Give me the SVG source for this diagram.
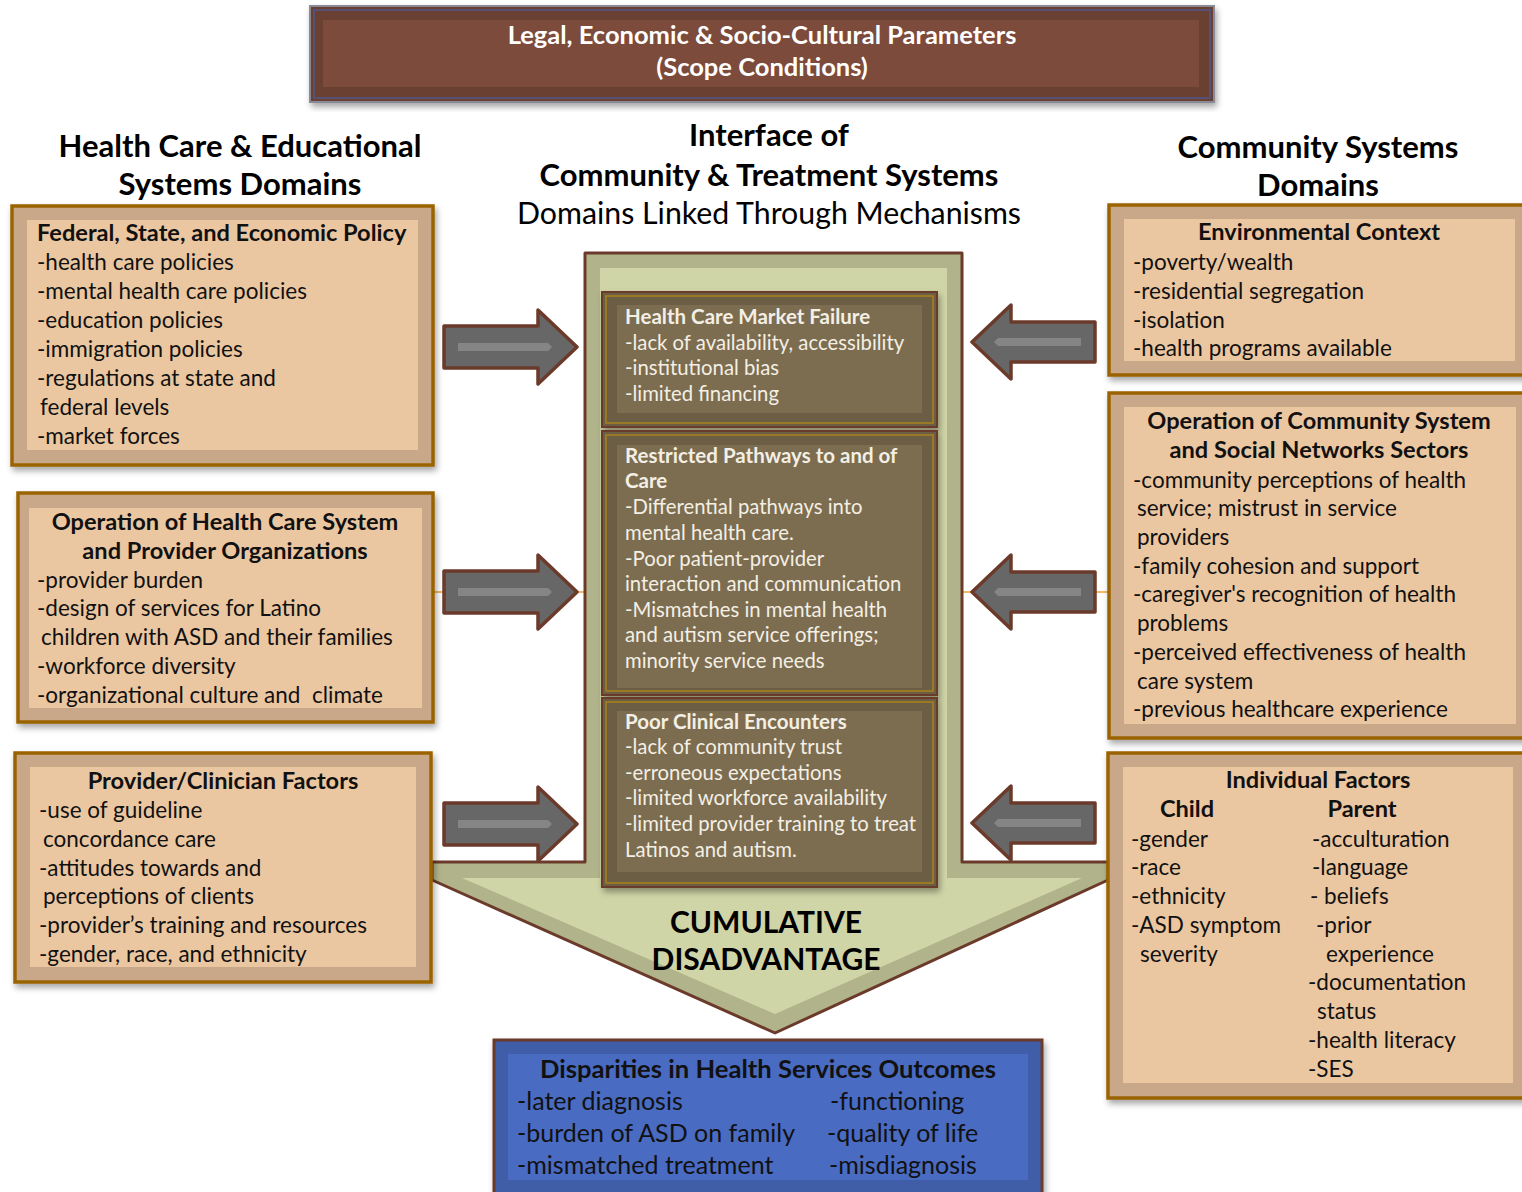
<svg xmlns="http://www.w3.org/2000/svg" width="1522" height="1192" viewBox="0 0 1522 1192">
<defs>
<filter id="sh" x="-5%" y="-5%" width="110%" height="115%">
<feDropShadow dx="2" dy="4" stdDeviation="3" flood-color="#000" flood-opacity="0.35"/>
</filter>
<g id="arrR">
<path d="M0,-21 L94,-21 L94,-37 L133,0 L94,37 L94,21 L0,21 Z" fill="#676767" stroke="#6b3a2a" stroke-width="3.5" stroke-linejoin="round"/>
<path d="M14,-4 L104,-4 L108,0 L104,4 L14,4 Z" fill="#858585"/>
</g>
<g id="arrL">
<path d="M0,0 L39,-37 L39,-20 L123,-20 L123,20 L39,20 L39,37 Z" fill="#676767" stroke="#6b3a2a" stroke-width="3.5" stroke-linejoin="round"/>
<path d="M22,0 L26,-4 L109,-4 L109,4 L26,4 Z" fill="#858585"/>
</g>
</defs>
<style>
.f{font-family:Lato,"Open Sans","Liberation Sans",sans-serif}
.hd{font-size:31px;font-weight:700;fill:#000}
.hr{font-size:30.3px;font-weight:400;fill:#000}
.t{font-size:22.5px;fill:#111}
.tb{font-size:23.6px;font-weight:700;fill:#111}
.w{font-size:20.3px;fill:#f4efe4}
.wb{font-size:20.5px;font-weight:700;fill:#f4efe4}
.c{text-anchor:middle}
.bo{fill:#c8a888;stroke:#9b6400;stroke-width:3.5}
.bi{fill:#ebc7a1}
.mo{fill:#6c5d44;stroke:#6b3a2a;stroke-width:2}
.ml{fill:none;stroke:#a8821c;stroke-width:1.5}
.mi{fill:#7c6d50}
.conn{stroke:#f0a030;stroke-width:1.5;fill:none}
</style>
<rect width="1522" height="1192" fill="#fff"/>

<!-- top banner -->
<g id="scope">
<rect x="310" y="6" width="904" height="96" fill="#6b3f31" stroke="#8a8a96" stroke-width="2" filter="url(#sh)"/>
<rect x="314" y="10" width="896" height="88" fill="none" stroke="#4a5ca0" stroke-width="1.2"/>
<rect x="323" y="20" width="876" height="67" fill="#7c4b3b"/>
<text class="f c" x="762" y="44" font-size="25.5" font-weight="700" fill="#fff">Legal, Economic &amp; Socio-Cultural Parameters</text>
<text class="f c" x="762" y="76" font-size="25.5" font-weight="700" fill="#fff">(Scope Conditions)</text>
</g>

<!-- headings -->
<g id="head-left">
<text class="f hd c" x="240" y="157">Health Care &amp; Educational</text>
<text class="f hd c" x="240" y="195">Systems Domains</text>
</g>
<g id="head-center">
<text class="f hd c" x="769" y="146">Interface of</text>
<text class="f hd c" x="769" y="186">Community &amp; Treatment Systems</text>
<text class="f hr c" x="769" y="224">Domains Linked Through Mechanisms</text>
</g>
<g id="head-right">
<text class="f hd c" x="1318" y="158">Community Systems</text>
<text class="f hd c" x="1318" y="196">Domains</text>
</g>

<!-- connectors -->
<g id="connectors">
<line class="conn" x1="433" y1="592" x2="586" y2="592"/>
<line class="conn" x1="961" y1="592" x2="1109" y2="592"/>
<use href="#arrR" x="444" y="347"/>
<use href="#arrR" x="444" y="592"/>
<use href="#arrR" x="444" y="824"/>
<use href="#arrL" x="972" y="342"/>
<use href="#arrL" x="972" y="592"/>
<use href="#arrL" x="972" y="823"/>
</g>

<!-- central arrow -->
<g id="cumulative">
<path d="M585,253 L962,253 L962,862 L1108,862 L1108,880 L775,1033 L432,880 L432,862 L585,862 Z" fill="#b1b48b" stroke="#6b3a2a" stroke-width="3" stroke-linejoin="round"/>
<path d="M600,268 L947,268 L947,878 L1082,878 L775,1014 L462,878 L600,878 Z" fill="#d0d5a7"/>
<text class="f c" x="766" y="933" font-size="30" font-weight="700" fill="#000">CUMULATIVE</text>
<text class="f c" x="766" y="970" font-size="30" font-weight="700" fill="#000">DISADVANTAGE</text>
</g>

<g id="market-failure">
<rect class="mo" x="602" y="292" width="335" height="135" filter="url(#sh)"/>
<rect class="ml" x="606" y="296" width="327" height="127"/>
<rect class="mi" x="617" y="305" width="305" height="108"/>
<text class="f wb" x="625" y="324">Health Care Market Failure</text>
<text class="f w" x="625" y="350">-lack of availability, accessibility</text>
<text class="f w" x="625" y="375">-institutional bias</text>
<text class="f w" x="625" y="401">-limited financing</text>
</g>

<g id="pathways">
<rect class="mo" x="602" y="431" width="335" height="264" filter="url(#sh)"/>
<rect class="ml" x="606" y="435" width="327" height="256"/>
<rect class="mi" x="617" y="445" width="305" height="243"/>
<text class="f wb" x="625" y="463">Restricted Pathways to and of</text>
<text class="f wb" x="625" y="488">Care</text>
<text class="f w" x="625" y="514">-Differential pathways into</text>
<text class="f w" x="625" y="540">mental health care.</text>
<text class="f w" x="625" y="566">-Poor patient-provider</text>
<text class="f w" x="625" y="591">interaction and communication</text>
<text class="f w" x="625" y="617">-Mismatches in mental health</text>
<text class="f w" x="625" y="642">and autism service offerings;</text>
<text class="f w" x="625" y="668">minority service needs</text>
</g>

<g id="clinical">
<rect class="mo" x="602" y="698" width="335" height="189" filter="url(#sh)"/>
<rect class="ml" x="606" y="702" width="327" height="181"/>
<rect class="mi" x="617" y="711" width="305" height="161"/>
<text class="f wb" x="625" y="729">Poor Clinical Encounters</text>
<text class="f w" x="625" y="754">-lack of community trust</text>
<text class="f w" x="625" y="780">-erroneous expectations</text>
<text class="f w" x="625" y="805">-limited workforce availability</text>
<text class="f w" x="625" y="831">-limited provider training to treat</text>
<text class="f w" x="625" y="857">Latinos and autism.</text>
</g>

<!-- left boxes -->
<g id="policy">
<rect class="bo" x="12" y="206" width="421" height="259" filter="url(#sh)"/>
<rect class="bi" x="27" y="220" width="391" height="230"/>
<text class="f tb" x="37" y="241">Federal, State, and Economic Policy</text>
<text class="f t" x="37" y="270">-health care policies</text>
<text class="f t" x="37" y="299">-mental health care policies</text>
<text class="f t" x="37" y="328">-education policies</text>
<text class="f t" x="37" y="357">-immigration policies</text>
<text class="f t" x="37" y="386">-regulations at state and</text>
<text class="f t" x="40" y="415">federal levels</text>
<text class="f t" x="37" y="444">-market forces</text>
</g>

<g id="hc-operation">
<rect class="bo" x="18" y="493" width="415" height="229" filter="url(#sh)"/>
<rect class="bi" x="29" y="508" width="393" height="200"/>
<text class="f tb c" x="225" y="530">Operation of Health Care System</text>
<text class="f tb c" x="225" y="559">and Provider Organizations</text>
<text class="f t" x="37" y="588">-provider burden</text>
<text class="f t" x="37" y="616">-design of services for Latino</text>
<text class="f t" x="41" y="645">children with ASD and their families</text>
<text class="f t" x="37" y="674">-workforce diversity</text>
<text class="f t" x="37" y="703" xml:space="preserve">-organizational culture and  climate</text>
</g>

<g id="provider">
<rect class="bo" x="15" y="753" width="416" height="229" filter="url(#sh)"/>
<rect class="bi" x="30" y="767" width="386" height="200"/>
<text class="f tb c" x="223" y="789">Provider/Clinician Factors</text>
<text class="f t" x="39" y="818">-use of guideline</text>
<text class="f t" x="43" y="847">concordance care</text>
<text class="f t" x="39" y="876">-attitudes towards and</text>
<text class="f t" x="43" y="904">perceptions of clients</text>
<text class="f t" x="39" y="933">-provider’s training and resources</text>
<text class="f t" x="39" y="962">-gender, race, and ethnicity</text>
</g>

<!-- right boxes -->
<g id="environment">
<rect class="bo" x="1109" y="205" width="420" height="170" filter="url(#sh)"/>
<rect class="bi" x="1124" y="219" width="391" height="142"/>
<text class="f tb c" x="1319" y="240">Environmental Context</text>
<text class="f t" x="1133" y="270">-poverty/wealth</text>
<text class="f t" x="1133" y="299">-residential segregation</text>
<text class="f t" x="1133" y="328">-isolation</text>
<text class="f t" x="1133" y="356">-health programs available</text>
</g>

<g id="community-operation">
<rect class="bo" x="1109" y="393" width="420" height="345" filter="url(#sh)"/>
<rect class="bi" x="1124" y="407" width="392" height="317"/>
<text class="f tb c" x="1319" y="429">Operation of Community System</text>
<text class="f tb c" x="1319" y="458">and Social Networks Sectors</text>
<text class="f t" x="1133" y="488">-community perceptions of health</text>
<text class="f t" x="1137" y="516">service; mistrust in service</text>
<text class="f t" x="1137" y="545">providers</text>
<text class="f t" x="1133" y="574">-family cohesion and support</text>
<text class="f t" x="1133" y="602">-caregiver's recognition of health</text>
<text class="f t" x="1137" y="631">problems</text>
<text class="f t" x="1133" y="660">-perceived effectiveness of health</text>
<text class="f t" x="1137" y="689">care system</text>
<text class="f t" x="1133" y="717">-previous healthcare experience</text>
</g>

<g id="individual">
<rect class="bo" x="1108" y="753" width="420" height="345" filter="url(#sh)"/>
<rect class="bi" x="1123" y="767" width="390" height="316"/>
<text class="f tb c" x="1318" y="788">Individual Factors</text>
<text class="f tb c" x="1187" y="817">Child</text>
<text class="f tb c" x="1362" y="817">Parent</text>
<text class="f t" x="1131" y="847">-gender</text>
<text class="f t" x="1131" y="875">-race</text>
<text class="f t" x="1131" y="904">-ethnicity</text>
<text class="f t" x="1131" y="933">-ASD symptom</text>
<text class="f t" x="1140" y="962">severity</text>
<text class="f t" x="1312" y="847">-acculturation</text>
<text class="f t" x="1312" y="875">-language</text>
<text class="f t" x="1310" y="904">- beliefs</text>
<text class="f t" x="1316" y="933">-prior</text>
<text class="f t" x="1326" y="962">experience</text>
<text class="f t" x="1308" y="990">-documentation</text>
<text class="f t" x="1317" y="1019">status</text>
<text class="f t" x="1308" y="1048">-health literacy</text>
<text class="f t" x="1308" y="1077">-SES</text>
</g>

<!-- outcome -->
<g id="outcomes">
<rect x="494" y="1040" width="548" height="160" fill="#3f5da8" stroke="#6b3a2a" stroke-width="3" filter="url(#sh)"/>
<rect x="508" y="1054" width="520" height="126" fill="#4a6bc2"/>
<text class="f c" x="768" y="1078" font-size="25.6" font-weight="700" fill="#111">Disparities in Health Services Outcomes</text>
<text class="f" x="517" y="1110" font-size="25" fill="#111">-later diagnosis</text>
<text class="f" x="517" y="1142" font-size="25" fill="#111">-burden of ASD on family</text>
<text class="f" x="517" y="1174" font-size="25" fill="#111">-mismatched treatment</text>
<text class="f" x="830" y="1110" font-size="25" fill="#111">-functioning</text>
<text class="f" x="827" y="1142" font-size="25" fill="#111">-quality of life</text>
<text class="f" x="829" y="1174" font-size="25" fill="#111">-misdiagnosis</text>
</g>
</svg>
